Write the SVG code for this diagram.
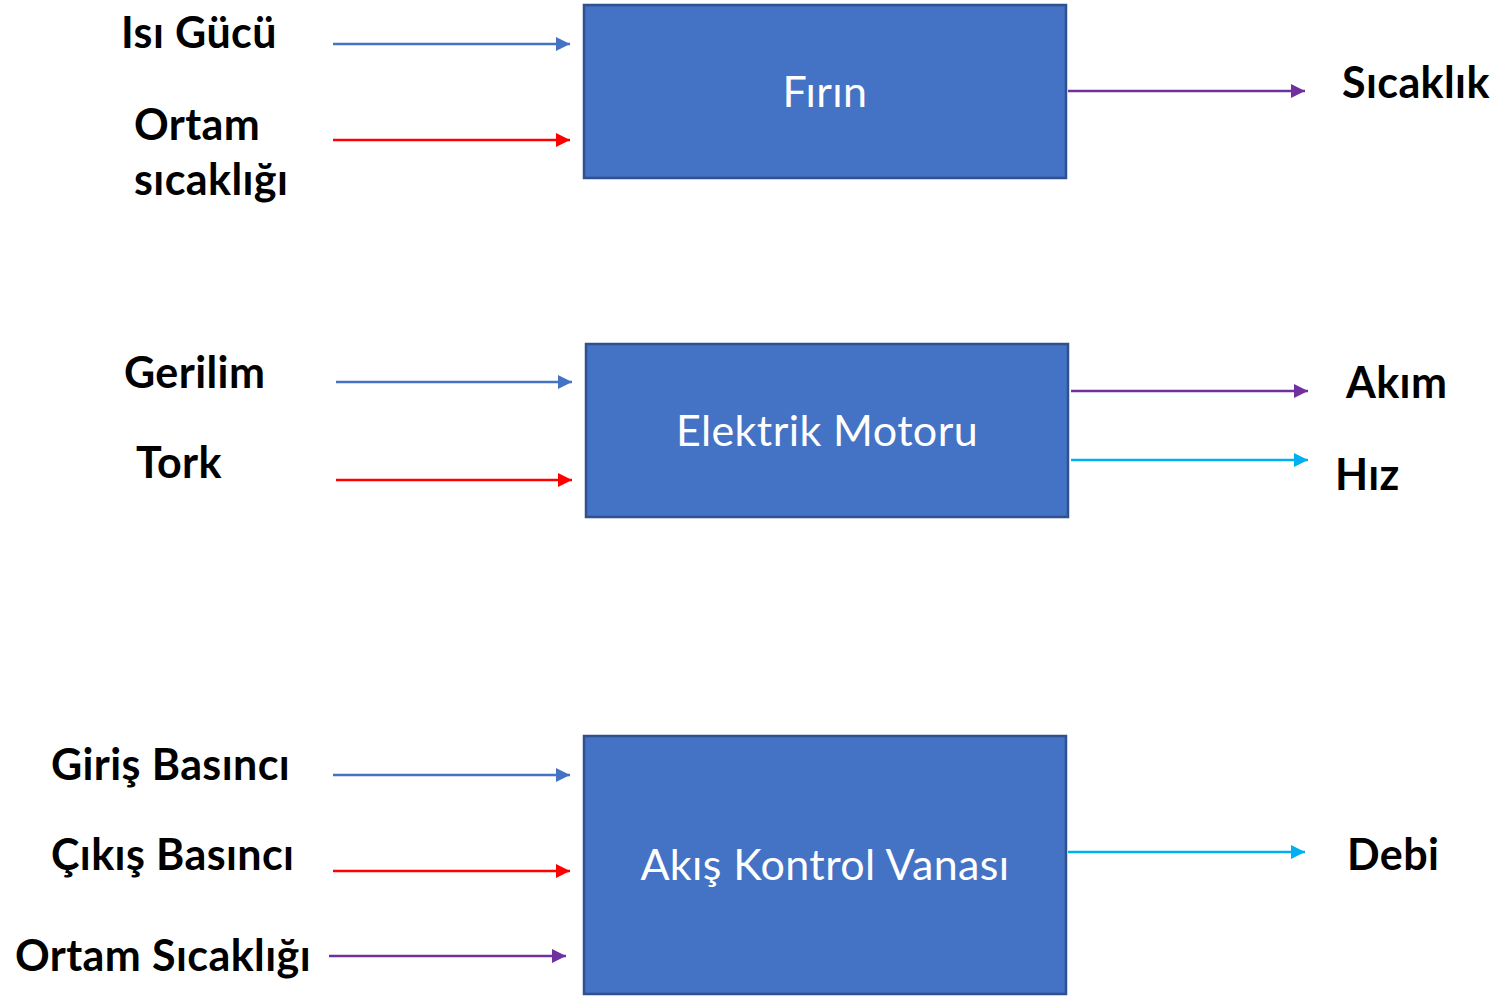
<svg xmlns="http://www.w3.org/2000/svg" width="1501" height="997" viewBox="0 0 1501 997">
  <style>
    .box { fill: #4472C4; stroke: #2F528F; stroke-width: 2.5; }
    .title { font-family: Lato, "Liberation Sans", sans-serif; font-size: 43px; letter-spacing: 0.4px; fill: #FFFFFF; text-anchor: middle; }
    .lbl { font-family: Lato, "Liberation Sans", sans-serif; font-weight: bold; font-size: 43px; letter-spacing: 0.4px; fill: #000000; }
    .c { fill: none; stroke-width: 2.5; }
    .blue { stroke: #4472C4; }
    .red { stroke: #FF0000; }
    .purple { stroke: #7030A0; }
    .cyan { stroke: #00B0F0; }
  </style>
  <defs>
    <marker id="ah-blue" viewBox="0 0 10 10" refX="10" refY="5" markerUnits="userSpaceOnUse" markerWidth="16" markerHeight="14" orient="auto"><path d="M0,0 L10,5 L0,10 z" fill="#4472C4"/></marker>
    <marker id="ah-red" viewBox="0 0 10 10" refX="10" refY="5" markerUnits="userSpaceOnUse" markerWidth="16" markerHeight="14" orient="auto"><path d="M0,0 L10,5 L0,10 z" fill="#FF0000"/></marker>
    <marker id="ah-purple" viewBox="0 0 10 10" refX="10" refY="5" markerUnits="userSpaceOnUse" markerWidth="16" markerHeight="14" orient="auto"><path d="M0,0 L10,5 L0,10 z" fill="#7030A0"/></marker>
    <marker id="ah-cyan" viewBox="0 0 10 10" refX="10" refY="5" markerUnits="userSpaceOnUse" markerWidth="16" markerHeight="14" orient="auto"><path d="M0,0 L10,5 L0,10 z" fill="#00B0F0"/></marker>
  </defs>
  <rect width="1501" height="997" fill="#FFFFFF"/>

  <g id="connectors">
    <path class="c blue" d="M333,44 H570" marker-end="url(#ah-blue)"/>
    <path class="c red" d="M333,140 H570" marker-end="url(#ah-red)"/>
    <path class="c purple" d="M1068,91 H1305" marker-end="url(#ah-purple)"/>
    <path class="c blue" d="M336,382 H572" marker-end="url(#ah-blue)"/>
    <path class="c red" d="M336,480 H572" marker-end="url(#ah-red)"/>
    <path class="c purple" d="M1071,391 H1308" marker-end="url(#ah-purple)"/>
    <path class="c cyan" d="M1071,460 H1308" marker-end="url(#ah-cyan)"/>
    <path class="c blue" d="M333,775 H570" marker-end="url(#ah-blue)"/>
    <path class="c red" d="M333,871 H570" marker-end="url(#ah-red)"/>
    <path class="c purple" d="M329,956 H566" marker-end="url(#ah-purple)"/>
    <path class="c cyan" d="M1068,852 H1305" marker-end="url(#ah-cyan)"/>
  </g>

  <g id="firin">
    <rect class="box" x="584" y="5" width="482" height="173"/>
    <text class="title" x="825" y="107">Fırın</text>
  </g>
  <g id="elektrik-motoru">
    <rect class="box" x="586" y="344" width="482" height="173"/>
    <text class="title" x="827" y="446">Elektrik Motoru</text>
  </g>
  <g id="akis-kontrol-vanasi">
    <rect class="box" x="584" y="736" width="482" height="258"/>
    <text class="title" x="825" y="880">Akış Kontrol Vanası</text>
  </g>

  <g id="labels">
    <text class="lbl" x="121" y="48">Isı Gücü</text>
    <text class="lbl" x="134" y="140">Ortam</text>
    <text class="lbl" x="134" y="195">sıcaklığı</text>
    <text class="lbl" x="1342" y="98">Sıcaklık</text>
    <text class="lbl" x="124" y="388">Gerilim</text>
    <text class="lbl" x="136" y="478">Tork</text>
    <text class="lbl" x="1346" y="398">Akım</text>
    <text class="lbl" x="1335" y="490">Hız</text>
    <text class="lbl" x="51" y="780">Giriş Basıncı</text>
    <text class="lbl" x="51" y="870">Çıkış Basıncı</text>
    <text class="lbl" x="15" y="971">Ortam Sıcaklığı</text>
    <text class="lbl" x="1347" y="870">Debi</text>
  </g>
</svg>
